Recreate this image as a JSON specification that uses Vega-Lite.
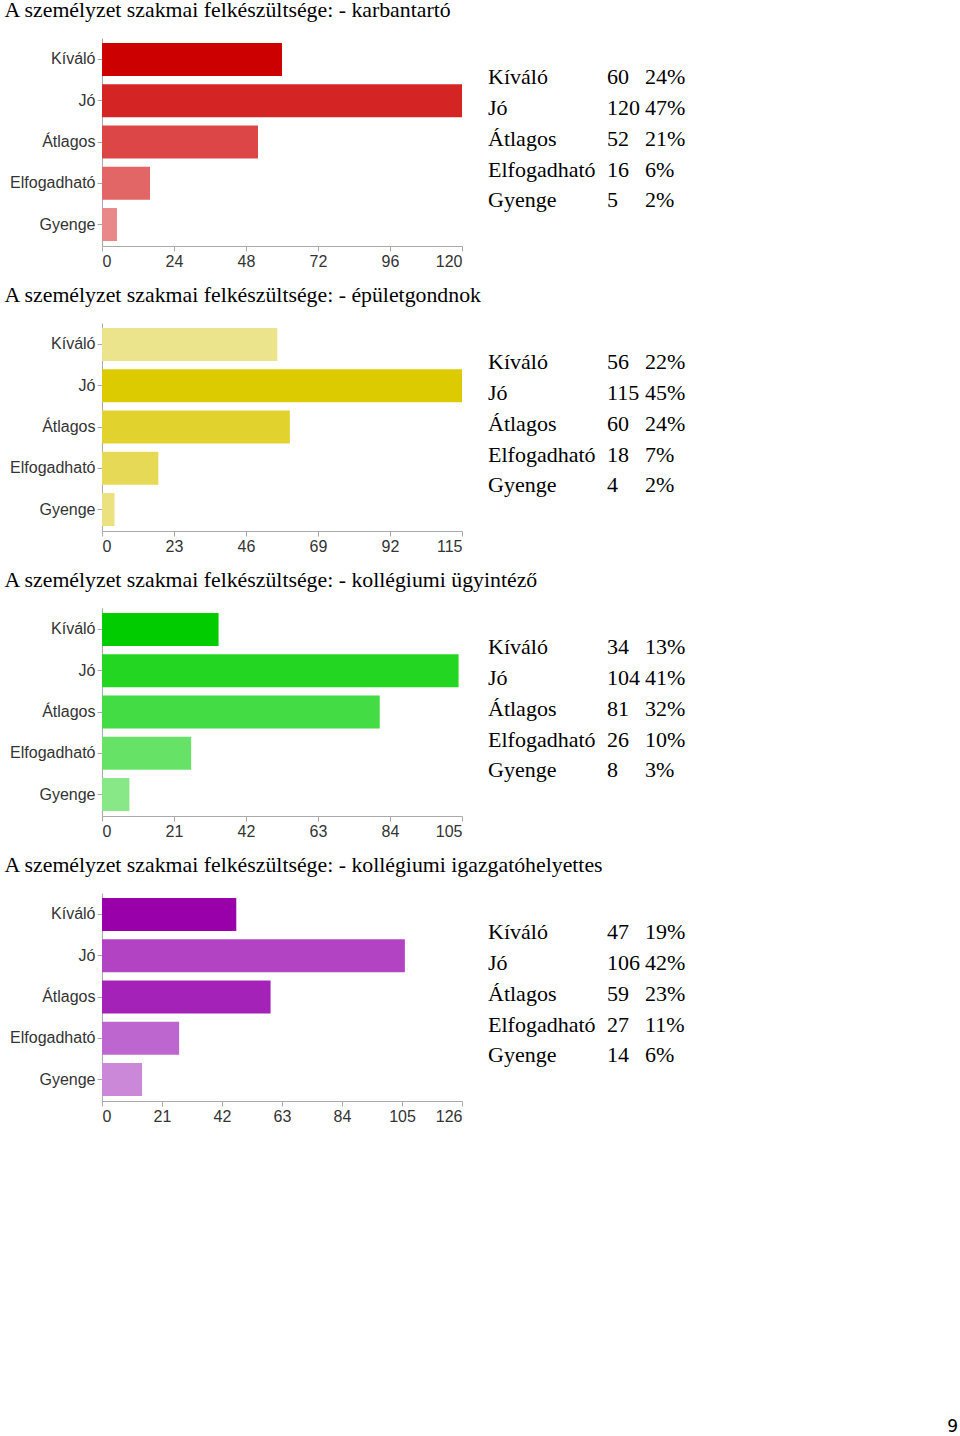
{
  "$schema": "https://vega.github.io/schema/vega-lite/v6.json",
  "padding": {"left": 4, "top": 0, "right": 0, "bottom": 0},
  "background": "white",
  "data": {"values": [
    {"panel": "karbantartó", "Kategória": "Kíváló", "db": 60, "arány": 0.24},
    {"panel": "karbantartó", "Kategória": "Jó", "db": 120, "arány": 0.47},
    {"panel": "karbantartó", "Kategória": "Átlagos", "db": 52, "arány": 0.21},
    {"panel": "karbantartó", "Kategória": "Elfogadható", "db": 16, "arány": 0.06},
    {"panel": "karbantartó", "Kategória": "Gyenge", "db": 5, "arány": 0.02},
    {"panel": "épületgondnok", "Kategória": "Kíváló", "db": 56, "arány": 0.22},
    {"panel": "épületgondnok", "Kategória": "Jó", "db": 115, "arány": 0.45},
    {"panel": "épületgondnok", "Kategória": "Átlagos", "db": 60, "arány": 0.24},
    {"panel": "épületgondnok", "Kategória": "Elfogadható", "db": 18, "arány": 0.07},
    {"panel": "épületgondnok", "Kategória": "Gyenge", "db": 4, "arány": 0.02},
    {"panel": "kollégiumi ügyintéző", "Kategória": "Kíváló", "db": 34, "arány": 0.13},
    {"panel": "kollégiumi ügyintéző", "Kategória": "Jó", "db": 104, "arány": 0.41},
    {"panel": "kollégiumi ügyintéző", "Kategória": "Átlagos", "db": 81, "arány": 0.32},
    {"panel": "kollégiumi ügyintéző", "Kategória": "Elfogadható", "db": 26, "arány": 0.10},
    {"panel": "kollégiumi ügyintéző", "Kategória": "Gyenge", "db": 8, "arány": 0.03},
    {"panel": "kollégiumi igazgatóhelyettes", "Kategória": "Kíváló", "db": 47, "arány": 0.19},
    {"panel": "kollégiumi igazgatóhelyettes", "Kategória": "Jó", "db": 106, "arány": 0.42},
    {"panel": "kollégiumi igazgatóhelyettes", "Kategória": "Átlagos", "db": 59, "arány": 0.23},
    {"panel": "kollégiumi igazgatóhelyettes", "Kategória": "Elfogadható", "db": 27, "arány": 0.11},
    {"panel": "kollégiumi igazgatóhelyettes", "Kategória": "Gyenge", "db": 14, "arány": 0.06}
  ]},
  "spacing": 16,
  "resolve": {"scale": {"color": "independent", "x": "independent", "y": "independent"}},
  "vconcat": [
    {
      "title": {"text": "A személyzet szakmai felkészültsége: - karbantartó"},
      "transform": [{"filter": "datum.panel === 'karbantartó'"}],
      "spacing": 26, "bounds": "flush",
      "resolve": {"scale": {"y": "independent"}},
      "hconcat": [
        {"width": 360, "height": 208, "mark": {"type": "bar"},
         "encoding": {
           "y": {"field": "Kategória", "type": "nominal", "sort": ["Kíváló", "Jó", "Átlagos", "Elfogadható", "Gyenge"], "scale": {"paddingInner": 0.2, "paddingOuter": 0.12}, "title": null},
           "x": {"field": "db", "type": "quantitative", "scale": {"domain": [0, 120], "nice": false}, "axis": {"values": [0, 24, 48, 72, 96, 120]}, "title": null},
           "color": {"field": "Kategória", "type": "nominal", "scale": {"domain": ["Kíváló", "Jó", "Átlagos", "Elfogadható", "Gyenge"], "range": ["#cc0000", "#d42424", "#dc4646", "#e26666", "#e88888"]}, "legend": null}
         }},
        {"width": 93, "height": 208, "mark": {"type": "text", "align": "left", "baseline": "middle", "x": 0, "font": "Liberation Serif", "fontSize": 22, "color": "#000"},
         "encoding": {"y": {"field": "Kategória", "type": "nominal", "sort": ["Kíváló", "Jó", "Átlagos", "Elfogadható", "Gyenge"], "scale": {"type": "band", "paddingInner": 0, "paddingOuter": 0.875, "align": 0.44}, "axis": null}, "text": {"field": "Kategória"}}},
        {"width": 12, "height": 208, "mark": {"type": "text", "align": "left", "baseline": "middle", "x": 0, "font": "Liberation Serif", "fontSize": 22, "color": "#000"},
         "encoding": {"y": {"field": "Kategória", "type": "nominal", "sort": ["Kíváló", "Jó", "Átlagos", "Elfogadható", "Gyenge"], "scale": {"type": "band", "paddingInner": 0, "paddingOuter": 0.875, "align": 0.44}, "axis": null}, "text": {"field": "db", "type": "quantitative"}}},
        {"width": 45, "height": 208, "mark": {"type": "text", "align": "left", "baseline": "middle", "x": 0, "font": "Liberation Serif", "fontSize": 22, "color": "#000"},
         "encoding": {"y": {"field": "Kategória", "type": "nominal", "sort": ["Kíváló", "Jó", "Átlagos", "Elfogadható", "Gyenge"], "scale": {"type": "band", "paddingInner": 0, "paddingOuter": 0.875, "align": 0.44}, "axis": null}, "text": {"field": "arány", "type": "quantitative", "format": ".0%"}}}
      ]
    },
    {
      "title": {"text": "A személyzet szakmai felkészültsége: - épületgondnok"},
      "transform": [{"filter": "datum.panel === 'épületgondnok'"}],
      "spacing": 26, "bounds": "flush",
      "resolve": {"scale": {"y": "independent"}},
      "hconcat": [
        {"width": 360, "height": 208, "mark": {"type": "bar"},
         "encoding": {
           "y": {"field": "Kategória", "type": "nominal", "sort": ["Kíváló", "Jó", "Átlagos", "Elfogadható", "Gyenge"], "scale": {"paddingInner": 0.2, "paddingOuter": 0.12}, "title": null},
           "x": {"field": "db", "type": "quantitative", "scale": {"domain": [0, 115], "nice": false}, "axis": {"values": [0, 23, 46, 69, 92, 115]}, "title": null},
           "color": {"field": "Kategória", "type": "nominal", "scale": {"domain": ["Kíváló", "Jó", "Átlagos", "Elfogadható", "Gyenge"], "range": ["#ece48c", "#dccb00", "#e2d22e", "#e6d955", "#ebe17f"]}, "legend": null}
         }},
        {"width": 93, "height": 208, "mark": {"type": "text", "align": "left", "baseline": "middle", "x": 0, "font": "Liberation Serif", "fontSize": 22, "color": "#000"},
         "encoding": {"y": {"field": "Kategória", "type": "nominal", "sort": ["Kíváló", "Jó", "Átlagos", "Elfogadható", "Gyenge"], "scale": {"type": "band", "paddingInner": 0, "paddingOuter": 0.875, "align": 0.44}, "axis": null}, "text": {"field": "Kategória"}}},
        {"width": 12, "height": 208, "mark": {"type": "text", "align": "left", "baseline": "middle", "x": 0, "font": "Liberation Serif", "fontSize": 22, "color": "#000"},
         "encoding": {"y": {"field": "Kategória", "type": "nominal", "sort": ["Kíváló", "Jó", "Átlagos", "Elfogadható", "Gyenge"], "scale": {"type": "band", "paddingInner": 0, "paddingOuter": 0.875, "align": 0.44}, "axis": null}, "text": {"field": "db", "type": "quantitative"}}},
        {"width": 45, "height": 208, "mark": {"type": "text", "align": "left", "baseline": "middle", "x": 0, "font": "Liberation Serif", "fontSize": 22, "color": "#000"},
         "encoding": {"y": {"field": "Kategória", "type": "nominal", "sort": ["Kíváló", "Jó", "Átlagos", "Elfogadható", "Gyenge"], "scale": {"type": "band", "paddingInner": 0, "paddingOuter": 0.875, "align": 0.44}, "axis": null}, "text": {"field": "arány", "type": "quantitative", "format": ".0%"}}}
      ]
    },
    {
      "title": {"text": "A személyzet szakmai felkészültsége: - kollégiumi ügyintéző"},
      "transform": [{"filter": "datum.panel === 'kollégiumi ügyintéző'"}],
      "spacing": 26, "bounds": "flush",
      "resolve": {"scale": {"y": "independent"}},
      "hconcat": [
        {"width": 360, "height": 208, "mark": {"type": "bar"},
         "encoding": {
           "y": {"field": "Kategória", "type": "nominal", "sort": ["Kíváló", "Jó", "Átlagos", "Elfogadható", "Gyenge"], "scale": {"paddingInner": 0.2, "paddingOuter": 0.12}, "title": null},
           "x": {"field": "db", "type": "quantitative", "scale": {"domain": [0, 105], "nice": false}, "axis": {"values": [0, 21, 42, 63, 84, 105]}, "title": null},
           "color": {"field": "Kategória", "type": "nominal", "scale": {"domain": ["Kíváló", "Jó", "Átlagos", "Elfogadható", "Gyenge"], "range": ["#00cc00", "#22d622", "#44dc44", "#66e266", "#88e888"]}, "legend": null}
         }},
        {"width": 93, "height": 208, "mark": {"type": "text", "align": "left", "baseline": "middle", "x": 0, "font": "Liberation Serif", "fontSize": 22, "color": "#000"},
         "encoding": {"y": {"field": "Kategória", "type": "nominal", "sort": ["Kíváló", "Jó", "Átlagos", "Elfogadható", "Gyenge"], "scale": {"type": "band", "paddingInner": 0, "paddingOuter": 0.875, "align": 0.44}, "axis": null}, "text": {"field": "Kategória"}}},
        {"width": 12, "height": 208, "mark": {"type": "text", "align": "left", "baseline": "middle", "x": 0, "font": "Liberation Serif", "fontSize": 22, "color": "#000"},
         "encoding": {"y": {"field": "Kategória", "type": "nominal", "sort": ["Kíváló", "Jó", "Átlagos", "Elfogadható", "Gyenge"], "scale": {"type": "band", "paddingInner": 0, "paddingOuter": 0.875, "align": 0.44}, "axis": null}, "text": {"field": "db", "type": "quantitative"}}},
        {"width": 45, "height": 208, "mark": {"type": "text", "align": "left", "baseline": "middle", "x": 0, "font": "Liberation Serif", "fontSize": 22, "color": "#000"},
         "encoding": {"y": {"field": "Kategória", "type": "nominal", "sort": ["Kíváló", "Jó", "Átlagos", "Elfogadható", "Gyenge"], "scale": {"type": "band", "paddingInner": 0, "paddingOuter": 0.875, "align": 0.44}, "axis": null}, "text": {"field": "arány", "type": "quantitative", "format": ".0%"}}}
      ]
    },
    {
      "title": {"text": "A személyzet szakmai felkészültsége: - kollégiumi igazgatóhelyettes"},
      "transform": [{"filter": "datum.panel === 'kollégiumi igazgatóhelyettes'"}],
      "spacing": 26, "bounds": "flush",
      "resolve": {"scale": {"y": "independent"}},
      "hconcat": [
        {"width": 360, "height": 208, "mark": {"type": "bar"},
         "encoding": {
           "y": {"field": "Kategória", "type": "nominal", "sort": ["Kíváló", "Jó", "Átlagos", "Elfogadható", "Gyenge"], "scale": {"paddingInner": 0.2, "paddingOuter": 0.12}, "title": null},
           "x": {"field": "db", "type": "quantitative", "scale": {"domain": [0, 126], "nice": false}, "axis": {"values": [0, 21, 42, 63, 84, 105, 126]}, "title": null},
           "color": {"field": "Kategória", "type": "nominal", "scale": {"domain": ["Kíváló", "Jó", "Átlagos", "Elfogadható", "Gyenge"], "range": ["#9900aa", "#b244c4", "#a422b8", "#bd66cf", "#cc88d8"]}, "legend": null}
         }},
        {"width": 93, "height": 208, "mark": {"type": "text", "align": "left", "baseline": "middle", "x": 0, "font": "Liberation Serif", "fontSize": 22, "color": "#000"},
         "encoding": {"y": {"field": "Kategória", "type": "nominal", "sort": ["Kíváló", "Jó", "Átlagos", "Elfogadható", "Gyenge"], "scale": {"type": "band", "paddingInner": 0, "paddingOuter": 0.875, "align": 0.44}, "axis": null}, "text": {"field": "Kategória"}}},
        {"width": 12, "height": 208, "mark": {"type": "text", "align": "left", "baseline": "middle", "x": 0, "font": "Liberation Serif", "fontSize": 22, "color": "#000"},
         "encoding": {"y": {"field": "Kategória", "type": "nominal", "sort": ["Kíváló", "Jó", "Átlagos", "Elfogadható", "Gyenge"], "scale": {"type": "band", "paddingInner": 0, "paddingOuter": 0.875, "align": 0.44}, "axis": null}, "text": {"field": "db", "type": "quantitative"}}},
        {"width": 45, "height": 208, "mark": {"type": "text", "align": "left", "baseline": "middle", "x": 0, "font": "Liberation Serif", "fontSize": 22, "color": "#000"},
         "encoding": {"y": {"field": "Kategória", "type": "nominal", "sort": ["Kíváló", "Jó", "Átlagos", "Elfogadható", "Gyenge"], "scale": {"type": "band", "paddingInner": 0, "paddingOuter": 0.875, "align": 0.44}, "axis": null}, "text": {"field": "arány", "type": "quantitative", "format": ".0%"}}}
      ]
    },
    {
      "data": {"values": [{"oldal": 9}]},
      "width": 856, "height": 292,
      "mark": {"type": "text", "align": "right", "baseline": "alphabetic", "x": "width", "y": "height", "font": "DejaVu Sans", "fontSize": 17, "color": "#000"},
      "encoding": {"text": {"field": "oldal", "type": "quantitative"}}
    }
  ],
  "config": {
    "view": {"stroke": null},
    "title": {"anchor": "start", "font": "Liberation Serif", "fontSize": 21.8, "fontWeight": "normal", "color": "#000", "dx": -5, "offset": 16},
    "axis": {"labelFont": "Liberation Sans", "labelFontSize": 16, "labelColor": "#333", "domainColor": "#aaa", "tickColor": "#aaa", "tickSize": 5, "labelPadding": 2, "grid": false}
  }
}
